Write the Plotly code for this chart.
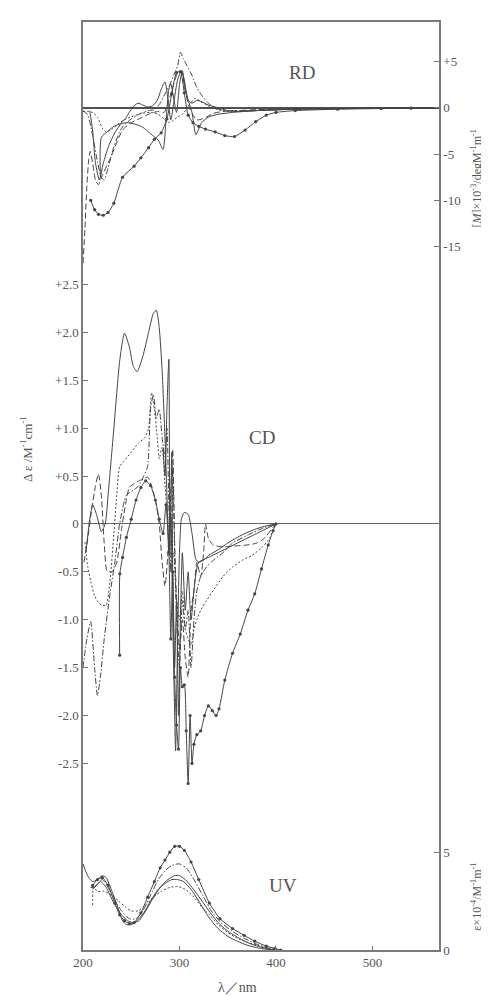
import plotly.graph_objects as go

# ---------------- RD panel ([M] x 10^-3) ----------------
rdA_wl = [208, 212, 216, 221, 226, 232, 241, 253, 260, 268, 274, 281, 287, 292, 297, 301, 305, 309, 314, 320, 327, 337, 347, 357, 368, 379, 390, 400, 420, 464, 509, 540, 570]
rdA_v = [-10.0, -11.0, -11.5, -11.6, -11.3, -10.3, -7.5, -6.3, -5.4, -4.3, -3.4, -2.7, -1.2, 1.5, 3.8, 3.9, 1.6, -0.8, -1.6, -2.0, -2.3, -2.6, -3.0, -3.1, -2.4, -1.5, -0.8, -0.5, -0.3, -0.15, -0.08, -0.04, 0.0]

rdB_wl = [207, 210, 213, 217, 221, 227, 233, 240, 245, 251, 257, 262, 267, 272, 277, 281, 285, 288, 291, 294, 298, 302, 305, 309, 313, 318, 322, 330, 340, 350, 360, 380, 420, 480, 570]
rdB_v = [-0.3, -2.5, -6.0, -7.8, -6.0, -4.0, -2.7, -1.6, -1.0, 0.0, 0.5, 0.3, 0.1, 0.2, 0.8, 2.0, 2.8, 1.0, -1.3, 0.5, 3.0, 4.0, 3.0, 0.8, 0.5, 0.8, 0.7, 0.3, 0.0, -0.3, -0.4, -0.3, -0.15, -0.05, 0.0]

rdF_wl = [218, 219, 225, 232, 240, 247, 255, 262, 270, 278, 283, 286, 289, 291, 294, 297, 300, 303, 306, 310, 313, 317, 323, 330, 340, 355, 380, 420, 570]
rdF_v = [-7.4, -3.2, -2.6, -2.0, -1.7, -1.6, -1.8, -2.1, -2.8, -3.5, -4.5, -1.5, 2.0, 2.6, 1.0, -0.5, 2.5, 4.0, 2.0, 0.5, -0.5, -2.9, -1.6, -1.0, -0.7, -0.5, -0.3, -0.15, 0.0]

rdC_wl = [200, 202, 204, 206, 207.5, 210, 213, 216, 220, 229, 241, 250, 260, 270, 278, 284, 289, 294, 298, 302, 306, 311, 318, 326, 335, 345, 360, 380, 420, 570]
rdC_v = [-16.8, -13.0, -8.5, -5.5, -4.7, -6.0, -7.8, -8.3, -7.3, -5.3, -2.4, -1.6, -1.1, -0.6, -0.4, -0.5, 0.8, 2.6, 3.7, 3.9, 1.8, -0.2, -1.3, -1.1, -0.6, -0.4, -0.3, -0.2, -0.1, 0.0]

rdD_wl = [200, 205, 210, 215, 220, 224, 230, 237, 243, 252, 261, 270, 278, 284, 288, 293, 298, 304, 310, 316, 322, 330, 340, 350, 370, 400, 450, 570]
rdD_v = [-0.4, -0.4, -0.5, -1.0, -2.2, -2.6, -2.3, -1.7, -1.3, -0.9, -0.6, -0.5, -0.7, -1.2, -1.6, -1.4, -1.0, -0.6, 0.3, 1.0, 0.7, 0.2, -0.2, -0.3, -0.3, -0.2, -0.1, 0.0]

rdE_wl = [200, 205, 210, 215, 219, 222, 226, 232, 240, 250, 260, 268, 274, 280, 285, 290, 294, 298, 301, 304, 308, 313, 318, 324, 330, 337, 345, 360, 380, 420, 570]
rdE_v = [-0.3, -0.8, -3.0, -5.8, -7.5, -7.8, -6.5, -4.2, -2.2, -1.2, -0.6, -0.3, -0.2, 0.5, 1.5, 2.5, 3.5, 4.5, 6.0, 5.3, 4.5, 3.5, 2.2, 1.2, 0.5, 0.0, -0.3, -0.4, -0.3, -0.15, 0.0]

# ---------------- CD panel (delta epsilon) ----------------
cdA_wl = [238, 238.2, 241, 245, 250, 255, 260, 265, 270, 275, 279, 283, 286, 289, 291, 293, 295, 297, 299, 301, 303, 305, 307, 309, 311, 313, 315, 318, 322, 326, 330, 334, 338, 341, 347, 355, 363, 371, 378, 385, 392, 397, 400]
cdA_v = [-1.37, -0.52, -0.35, -0.14, 0.05, 0.25, 0.38, 0.45, 0.4, 0.25, 0.05, -0.1, 0.2, -0.3, -1.2, -0.5, -1.6, -2.1, -2.35, -1.5, -1.7, -1.68, -2.16, -2.71, -2.0, -2.5, -2.3, -2.2, -2.16, -2.0, -1.9, -1.95, -2.0, -1.93, -1.63, -1.35, -1.15, -0.9, -0.73, -0.47, -0.22, -0.07, 0.0]

cdB_wl = [203, 207, 210, 214, 219, 223, 226, 232, 238, 243, 248, 252, 256, 262, 268, 273, 276, 279, 282, 285, 287, 289, 291, 293, 295, 296, 298, 300, 302, 305, 309, 313, 317, 320, 325, 330, 340, 350, 360, 370, 380, 390, 400]
cdB_v = [-0.3, 0.05, 0.2, 0.1, -0.08, 0.0, 0.3, 1.0, 1.7, 1.99, 1.85, 1.65, 1.59, 1.75, 2.0, 2.2, 2.23, 2.05, 1.6, 0.9, 0.3, -0.3, 0.1, -1.0, -2.0, -2.37, -1.2, -0.3, 0.05, 0.12, 0.1, -0.1, -0.37, -0.4, -0.38, -0.33, -0.27, -0.2, -0.14, -0.09, -0.05, -0.02, 0.0]

cdF_wl = [283, 285, 287, 289, 290, 292, 293, 295, 297, 299, 301, 303, 306, 309, 312, 316, 320, 330, 340, 360, 380, 400]
cdF_v = [0.8, 0.5, 1.2, 1.72, -0.3, 0.75, -0.5, -1.5, -0.8, -2.0, -1.0, -0.3, -0.9, -0.5, -1.0, -0.6, -0.4, -0.35, -0.3, -0.2, -0.1, 0.0]

cdC_wl = [201, 205, 209, 213, 216, 219, 222, 225, 230, 235, 240, 244, 248, 253, 258, 263, 267, 271, 275, 279, 282, 285, 288, 291, 293, 295, 297, 300, 303, 306, 309, 312, 315, 318, 322, 325, 327, 330, 335, 345, 357, 370, 380, 388, 395, 400]
cdC_v = [-0.4, -0.15, 0.15, 0.4, 0.52, 0.3, -0.2, -0.49, -0.5, -0.4, -0.05, 0.2, 0.38, 0.42, 0.45, 0.47, 0.49, 0.4, 0.25, 0.0, -0.4, -0.65, -0.3, 0.3, 0.78, -0.2, -0.8, -1.3, -1.0, -1.4, -1.6, -0.9, -0.7, -0.4, -0.55, -0.3, 0.0, -0.15, -0.22, -0.24, -0.23, -0.22, -0.2, -0.15, -0.06, 0.0]

cdD_wl = [202, 205, 208, 212, 216, 220, 224, 228, 232, 235, 238, 242, 250, 258, 264, 268, 271, 274, 277, 279, 282, 285, 288, 291, 294, 297, 300, 303, 306, 309, 312, 315, 318, 322, 328, 336, 345, 355, 365, 375, 385, 392, 400]
cdD_v = [-0.19, -0.45, -0.6, -0.75, -0.82, -0.85, -0.85, -0.6, -0.1, 0.3, 0.6, 0.65, 0.75, 0.85, 0.9, 1.0, 1.37, 1.2, 0.9, 0.68, 0.8, 0.4, 0.0, -0.5, -0.3, -0.8, -1.0, -0.7, -1.1, -1.2, -1.27, -1.1, -1.0, -0.9, -0.8, -0.68, -0.55, -0.45, -0.38, -0.33, -0.25, -0.17, 0.0]

cdE_wl = [200, 204, 208, 212, 215, 218, 222, 228, 233, 238, 245, 252, 258, 263, 267, 270, 273, 276, 279, 282, 285, 287, 289, 291, 293, 295, 297, 300, 303, 306, 309, 312, 315, 318, 322, 328, 335, 345, 355, 370, 385, 400]
cdE_v = [-1.5, -1.2, -1.02, -1.5, -1.79, -1.6, -1.2, -0.73, -0.4, 0.0, 0.3, 0.35, 0.4, 0.5, 0.6, 1.2, 1.35, 1.1, 1.2, 0.9, 0.7, 1.0, 0.2, -0.5, 0.6, -0.3, -1.0, -1.5, -0.8, -1.1, -0.9, -1.5, -1.0, -0.7, -0.55, -0.45, -0.38, -0.3, -0.2, -0.12, -0.05, 0.0]

# ---------------- UV panel (epsilon x 10^-4) ----------------
uvA_wl = [210, 215, 220, 226, 233, 238, 243, 248, 253, 260, 267, 274, 280, 285, 290, 295, 300, 305, 312, 320, 331, 342, 355, 367, 378, 390, 399, 405]
uvA_v = [3.3, 3.6, 3.7, 3.3, 2.4, 1.8, 1.5, 1.35, 1.4, 1.9, 2.7, 3.5, 4.2, 4.6, 5.0, 5.3, 5.3, 5.1, 4.5, 3.6, 2.4, 1.6, 1.1, 0.75, 0.45, 0.2, 0.08, 0.0]

uvB_wl = [200, 203, 206, 210, 215, 220, 224, 230, 236, 241, 245, 250, 256, 263, 270, 278, 285, 292, 298, 304, 312, 320, 330, 340, 350, 360, 370, 380, 390, 400]
uvB_v = [4.4, 4.0, 3.7, 3.5, 3.6, 3.8, 3.7, 3.0, 2.2, 1.5, 1.3, 1.3, 1.5, 1.9, 2.5, 3.1, 3.4, 3.6, 3.6, 3.5, 3.1, 2.5, 1.7, 1.1, 0.7, 0.45, 0.25, 0.12, 0.04, 0.0]

uvF_wl = [208, 212, 218, 224, 232, 240, 246, 252, 258, 265, 272, 280, 288, 295, 300, 306, 313, 322, 332, 342, 352, 362, 372, 382, 392, 400]
uvF_v = [3.2, 3.2, 3.5, 3.2, 2.4, 1.8, 1.5, 1.4, 1.5, 2.0, 2.6, 3.2, 3.6, 3.8, 3.8, 3.6, 3.2, 2.6, 1.9, 1.3, 0.9, 0.6, 0.35, 0.18, 0.06, 0.0]

uvE_wl = [210, 215, 220, 226, 232, 240, 248, 255, 262, 270, 278, 286, 293, 300, 307, 315, 324, 333, 343, 355, 367, 380, 392, 402]
uvE_v = [3.1, 3.4, 3.6, 3.2, 2.6, 2.0, 1.6, 1.6, 2.0, 2.8, 3.6, 4.1, 4.35, 4.4, 4.2, 3.6, 2.8, 2.0, 1.4, 0.95, 0.6, 0.3, 0.1, 0.0]

uvD_wl = [210, 211, 215, 222, 230, 237, 244, 250, 257, 265, 273, 281, 290, 298, 306, 315, 323, 331, 340, 350, 360, 370, 380, 390, 400]
uvD_v = [2.3, 3.2, 3.0, 3.0, 2.8, 2.5, 2.2, 2.0, 2.0, 2.3, 2.7, 3.0, 3.2, 3.25, 3.1, 2.7, 2.2, 1.8, 1.3, 0.9, 0.6, 0.4, 0.25, 0.1, 0.0]

# tick labels
x_ticks = [200, 300, 400, 500]
cd_ticks = [-2.5, -2.0, -1.5, -1.0, -0.5, 0, 0.5, 1.0, 1.5, 2.0, 2.5]
cd_ticktext = ["-2.5", "-2.0", "-1.5", "-1.0", "-0.5", "0", "+0.5", "+1.0", "+1.5", "+2.0", "+2.5"]
rd_ticks = [-15, -10, -5, 0, 5]
rd_ticktext = ["-15", "-10", "-5", "0", "+5"]
uv_ticks = [0, 5]
uv_ticktext = ["0", "5"]

INK = "#454545"
TXT = "#555555"
AX = "#7a7a7a"
FONT = "Liberation Serif"

styles = {
    "A": dict(dash="solid", markers=True),
    "B": dict(dash="solid", markers=False),
    "F": dict(dash="solid", markers=False),
    "C": dict(dash="6px,3px", markers=False),
    "D": dict(dash="2px,2px", markers=False),
    "E": dict(dash="6px,2px,1.5px,2px", markers=False),
}

fig = go.Figure()

def add(wl, v, key, yax):
    st = styles[key]
    fig.add_trace(go.Scatter(
        x=wl, y=v, yaxis=yax,
        mode="lines+markers" if st["markers"] else "lines",
        line=dict(color=INK, width=1.0, dash=st["dash"], shape="spline", smoothing=0.6),
        marker=dict(size=3.2, color=INK),
        showlegend=False, hoverinfo="skip"))

for wl, v, k in [(rdA_wl, rdA_v, "A"), (rdB_wl, rdB_v, "B"), (rdF_wl, rdF_v, "F"),
                 (rdC_wl, rdC_v, "C"), (rdD_wl, rdD_v, "D"), (rdE_wl, rdE_v, "E")]:
    add(wl, v, k, "y2")
for wl, v, k in [(cdA_wl, cdA_v, "A"), (cdB_wl, cdB_v, "B"), (cdF_wl, cdF_v, "F"),
                 (cdC_wl, cdC_v, "C"), (cdD_wl, cdD_v, "D"), (cdE_wl, cdE_v, "E")]:
    add(wl, v, k, "y")
for wl, v, k in [(uvA_wl, uvA_v, "A"), (uvB_wl, uvB_v, "B"), (uvF_wl, uvF_v, "F"),
                 (uvE_wl, uvE_v, "E"), (uvD_wl, uvD_v, "D")]:
    add(wl, v, k, "y3")

tickfont = dict(family=FONT, size=13, color=TXT)

fig.update_layout(
    width=489, height=996,
    margin=dict(l=75, r=58, t=12, b=54),
    paper_bgcolor="white", plot_bgcolor="white",
    font=dict(family=FONT, color=TXT),
    xaxis=dict(range=[200, 569], tickvals=x_ticks, ticks="inside", ticklen=4,
               tickcolor=AX, showline=True, linecolor=AX, linewidth=1.5, mirror=True,
               showgrid=False, zeroline=False, tickfont=tickfont),
    yaxis=dict(range=[-4.448, 5.24], tickvals=cd_ticks, ticktext=cd_ticktext,
               ticks="inside", ticklen=5, tickcolor=AX, showline=True, linecolor=AX,
               linewidth=1.5, showgrid=False, zeroline=True, zerolinecolor="#666666",
               zerolinewidth=1.2, tickfont=tickfont),
    yaxis2=dict(range=[-90.95, 9.267], overlaying="y", side="right", tickvals=rd_ticks,
                ticktext=rd_ticktext, ticks="inside", ticklen=5, tickcolor=AX,
                showline=True, linecolor=AX, linewidth=1.5, showgrid=False,
                zeroline=True, zerolinecolor="#505050", zerolinewidth=1.5, tickfont=tickfont),
    yaxis3=dict(range=[0, 47.45], overlaying="y", side="right", tickvals=uv_ticks,
                ticktext=uv_ticktext, ticks="inside", ticklen=5, tickcolor=AX,
                showline=True, linecolor=AX, linewidth=1.5, showgrid=False,
                zeroline=False, tickfont=tickfont),
)

ann = [
    dict(text="RD", x=427, y=3.8, xref="x", yref="y2", font=dict(size=19)),
    dict(text="CD", x=386, y=0.9, xref="x", yref="y", font=dict(size=19)),
    dict(text="UV", x=407, y=3.3, xref="x", yref="y3", font=dict(size=19)),
    dict(text="[<i>M</i>]×10<sup>-3</sup>/degM<sup>-1</sup>m<sup>-1</sup>", x=1.132, y=0.832,
         xref="paper", yref="paper", textangle=-90, font=dict(size=12),
         xanchor="right", yanchor="middle"),
    dict(text="ε×10<sup>-4</sup>/M<sup>-1</sup>m<sup>-1</sup>", x=1.132, y=0.058,
         xref="paper", yref="paper", textangle=-90, font=dict(size=12),
         xanchor="right", yanchor="middle"),
    dict(text="Δ ε /M<sup>-1</sup>cm<sup>-1</sup>", x=-0.16, y=0.54,
         xref="paper", yref="paper", textangle=-90, font=dict(size=13),
         xanchor="center", yanchor="middle"),
    dict(text="λ／nm", x=360, y=-0.040, xref="x", yref="paper", font=dict(size=14),
         xanchor="center", yanchor="middle"),
]
for a in ann:
    a.setdefault("showarrow", False)
    a["font"].setdefault("family", FONT)
    a["font"].setdefault("color", TXT)
    fig.add_annotation(**a)

fig.write_html("out.html")
